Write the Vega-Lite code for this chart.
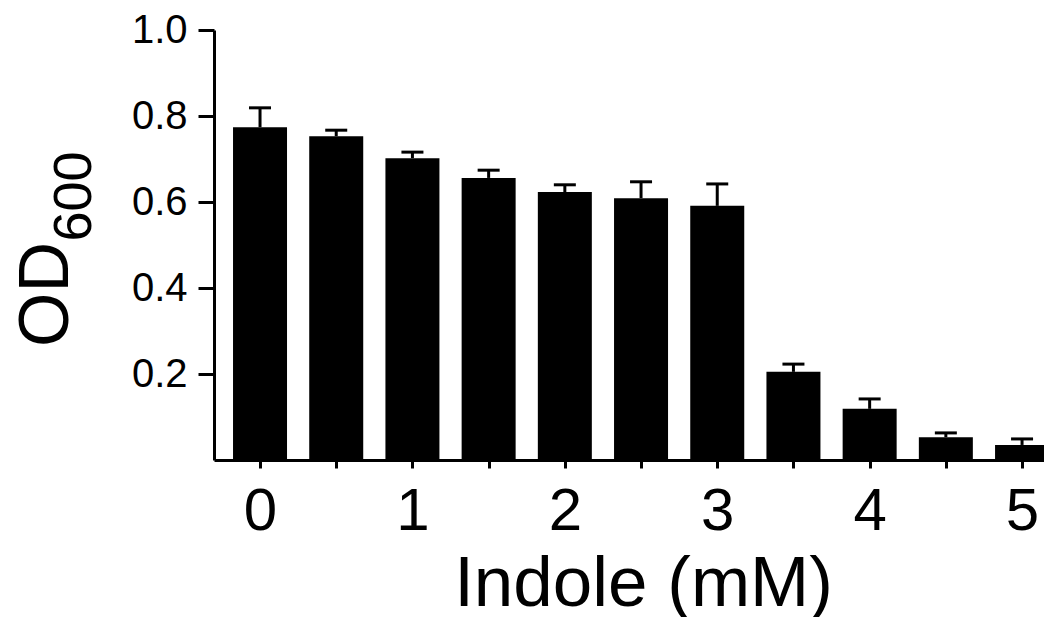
{
  "$schema": "https://vega.github.io/schema/vega-lite/v6.json",
  "autosize": {"type": "none"},
  "padding": {"left": 214, "top": 30, "right": 0, "bottom": 157},
  "width": 830,
  "height": 430,
  "background": "white",
  "config": {
    "view": {"stroke": null},
    "font": "Liberation Sans",
    "axis": {
      "domainColor": "black",
      "domainWidth": 3,
      "tickColor": "black",
      "tickWidth": 3,
      "labelColor": "black",
      "titleColor": "black",
      "labelFont": "Liberation Sans",
      "titleFont": "Liberation Sans",
      "titleFontWeight": "normal",
      "grid": false
    }
  },
  "data": {
    "values": [
      {"indole": 0.0, "od": 0.774, "err": 0.819},
      {"indole": 0.5, "od": 0.753, "err": 0.767},
      {"indole": 1.0, "od": 0.702, "err": 0.716},
      {"indole": 1.5, "od": 0.656, "err": 0.674},
      {"indole": 2.0, "od": 0.623, "err": 0.640},
      {"indole": 2.5, "od": 0.609, "err": 0.647},
      {"indole": 3.0, "od": 0.591, "err": 0.642},
      {"indole": 3.5, "od": 0.205, "err": 0.223},
      {"indole": 4.0, "od": 0.119, "err": 0.142},
      {"indole": 4.5, "od": 0.053, "err": 0.063},
      {"indole": 5.0, "od": 0.035, "err": 0.049}
    ]
  },
  "resolve": {"axis": {"y": "independent"}},
  "layer": [
    {
      "mark": {"type": "bar", "size": 54, "color": "black", "opacity": 1},
      "encoding": {
        "x": {
          "field": "indole", "type": "quantitative",
          "scale": {"domain": [-0.302, 5.144], "nice": false, "zero": false, "padding": 0},
          "axis": {
            "values": [0, 0.5, 1, 1.5, 2, 2.5, 3, 3.5, 4, 4.5, 5],
            "labelExpr": "datum.value % 1 == 0 ? format(datum.value, 'd') : ''",
            "labelFontSize": 60,
            "labelPadding": 14,
            "tickSize": 8,
            "labelFlush": false,
            "labelOverlap": false,
            "title": "Indole (mM)",
            "titleFontSize": 71,
            "titleBaseline": "alphabetic",
            "titleAlign": "center",
            "titleX": 429,
            "titleY": 145
          }
        },
        "y": {
          "field": "od", "type": "quantitative",
          "scale": {"domain": [0, 1], "nice": false, "padding": 0},
          "axis": {
            "orient": "left",
            "values": [0.2, 0.4, 0.6, 0.8, 1.0],
            "format": ".1f",
            "labelFontSize": 40,
            "labelPadding": 11,
            "tickSize": 16,
            "title": "OD",
            "titleFontSize": 70,
            "titleAngle": 270,
            "titleBaseline": "alphabetic",
            "titleAlign": "center",
            "titleX": -147,
            "titleY": 264
          }
        }
      }
    },
    {
      "mark": {"type": "rule", "color": "black", "strokeWidth": 3, "opacity": 1},
      "encoding": {
        "x": {"field": "indole", "type": "quantitative"},
        "y": {
          "field": "od", "type": "quantitative",
          "axis": {
            "orient": "left",
            "domain": false,
            "ticks": false,
            "labels": false,
            "title": "600",
            "titleFontSize": 54,
            "titleAngle": 270,
            "titleBaseline": "alphabetic",
            "titleAlign": "center",
            "titleX": -124,
            "titleY": 166
          }
        },
        "y2": {"field": "err"}
      }
    },
    {
      "mark": {"type": "tick", "orient": "horizontal", "color": "black", "size": 22, "thickness": 3, "opacity": 1},
      "encoding": {
        "x": {"field": "indole", "type": "quantitative"},
        "y": {"field": "err", "type": "quantitative", "axis": null}
      }
    }
  ]
}
